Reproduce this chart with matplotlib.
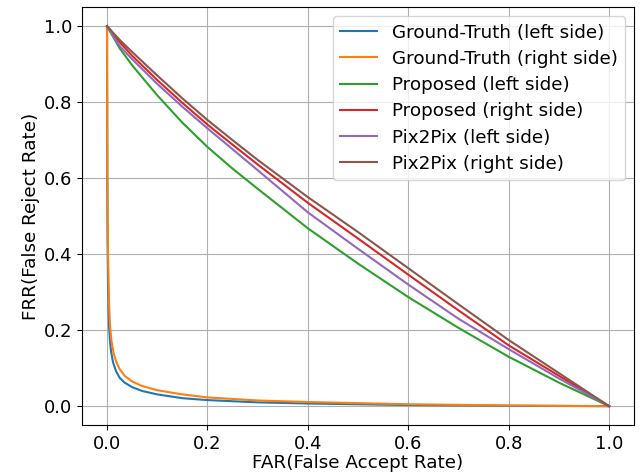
import matplotlib

matplotlib.use("Agg")
import matplotlib.pyplot as plt

# ground-truth DET curves (hug the axes)
gt_left_far = [0, 0.0005, 0.001, 0.002, 0.004, 0.006, 0.008, 0.012, 0.018, 0.025, 0.035, 0.05, 0.07,
               0.1, 0.15, 0.2, 0.3, 0.4, 0.6, 0.8, 1.0]
gt_left_frr = [1.0, 0.62, 0.45, 0.32, 0.21, 0.17, 0.145, 0.115, 0.092, 0.075, 0.062, 0.05, 0.04,
               0.031, 0.021, 0.016, 0.01, 0.007, 0.003, 0.001, 0.0]

gt_right_far = [0, 0.0005, 0.001, 0.002, 0.004, 0.006, 0.009, 0.013, 0.018, 0.025, 0.035, 0.05, 0.07,
                0.1, 0.15, 0.2, 0.3, 0.4, 0.6, 0.8, 1.0]
gt_right_frr = [1.0, 0.7, 0.55, 0.4, 0.27, 0.21, 0.17, 0.14, 0.118, 0.098, 0.08, 0.065, 0.053,
                0.042, 0.031, 0.023, 0.015, 0.011, 0.005, 0.002, 0.0]

# generated-image curves, sampled on a common FAR grid
far = [0, 0.025, 0.05, 0.1, 0.15, 0.2, 0.25, 0.3, 0.4, 0.5, 0.6, 0.7, 0.8, 0.9, 1.0]
proposed_left = [1.0, 0.942, 0.897, 0.818, 0.746, 0.682, 0.625, 0.572, 0.468, 0.375, 0.287, 0.206, 0.13, 0.062, 0.0]
proposed_right = [1.0, 0.958, 0.922, 0.858, 0.798, 0.741, 0.688, 0.636, 0.535, 0.441, 0.346, 0.252, 0.16, 0.08, 0.0]
pix2pix_left = [1.0, 0.948, 0.913, 0.848, 0.788, 0.731, 0.676, 0.621, 0.51, 0.414, 0.32, 0.23, 0.15, 0.073, 0.0]
pix2pix_right = [1.0, 0.964, 0.932, 0.870, 0.81, 0.753, 0.7, 0.648, 0.55, 0.458, 0.363, 0.268, 0.174, 0.087, 0.0]

plt.rcParams["font.size"] = 13.2
plt.rcParams["xtick.labelsize"] = 13
plt.rcParams["ytick.labelsize"] = 13

fig = plt.figure(figsize=(6.4, 4.74), dpi=100)
ax = fig.add_axes([0.128, 0.103, 0.863, 0.882])
ax.plot(gt_left_far, gt_left_frr, label="Ground-Truth (left side)")
ax.plot(gt_right_far, gt_right_frr, label="Ground-Truth (right side)")
ax.plot(far, proposed_left, label="Proposed (left side)")
ax.plot(far, proposed_right, label="Proposed (right side)")
ax.plot(far, pix2pix_left, label="Pix2Pix (left side)")
ax.plot(far, pix2pix_right, label="Pix2Pix (right side)")
ax.set_xlabel("FAR(False Accept Rate)", labelpad=1)
ax.set_ylabel("FRR(False Reject Rate)", labelpad=3)
ax.grid(True)
ax.legend(loc="upper right", labelspacing=0.45)
fig.savefig("out.png", dpi=100)
